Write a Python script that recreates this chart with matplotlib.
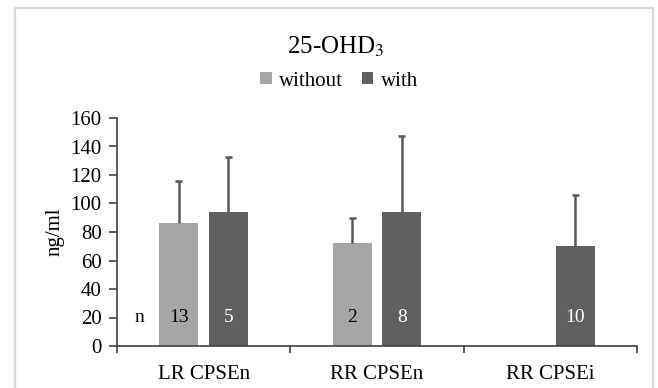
import matplotlib
matplotlib.use("Agg")
import matplotlib.pyplot as plt
import numpy as np
from matplotlib.patches import Rectangle

plt.rcParams['font.family'] = ['Liberation Serif', 'DejaVu Serif']

categories = ["LR CPSEn", "RR CPSEn", "RR CPSEi"]
without_vals = [86, 72.5, np.nan]
without_err = [29.5, 17.5, np.nan]
with_vals = [93.8, 94.2, 70.3]
with_err = [38.5, 53, 36]
n_without = ["13", "2", ""]
n_with = ["5", "8", "10"]
yticks = list(range(0, 161, 20))

light = "#a6a6a6"
dark = "#606060"

W, H = 658, 388
fig = plt.figure(figsize=(W/100, H/100), dpi=100)
fig.patches.append(Rectangle((15/W, -0.05), (653-15)/W, 1.05 - 8/H, transform=fig.transFigure,
                             fill=False, edgecolor="#d9d9d9", linewidth=1.6))
ax = fig.add_axes([117/W, 1-346/H, (637-117)/W, (346-118)/H])

x = np.arange(len(categories))
w = 0.224
off = 0.031 + w/2
ax.bar(x - off, without_vals, w, color=light, label="without", zorder=2)
ax.bar(x + off, with_vals, w, color=dark, label="with", zorder=2)
errc = "#595959"
capw = 0.02
for xs, vals, errs in [(x - off, without_vals, without_err), (x + off, with_vals, with_err)]:
    for xi, v, e in zip(xs, vals, errs):
        if np.isnan(v):
            continue
        ax.vlines(xi, v, v + e, color=errc, linewidth=1.8, zorder=3)
        ax.hlines(v + e, xi - capw, xi + capw, color=errc, linewidth=1.8, zorder=3)

for xi, t in zip(x - off, n_without):
    if t:
        ax.text(xi, 20, t, ha='center', va='center', fontsize=14, color='black', zorder=4)
for xi, t in zip(x + off, n_with):
    ax.text(xi, 20, t, ha='center', va='center', fontsize=14, color='white', zorder=4)
ax.text(-0.37, 20, "n", ha='center', va='center', fontsize=14, color='black')

ax.set_xlim(-0.5, 2.5)
ax.set_ylim(0, 160)
ax.set_yticks(yticks)
ax.set_yticklabels([str(t) for t in yticks], fontsize=15)
ax.set_xticks(x)
ax.set_xticklabels(categories, fontsize=15)
ax.tick_params(axis='x', length=0, pad=14)
ax.set_xticks([-0.5, 0.5, 1.5, 2.5], minor=True)
ax.tick_params(axis='x', which='minor', length=5, direction='out', width=1.2, color='#404040')
ax.tick_params(axis='y', length=6, direction='out', width=1.2, color='#404040', pad=5)
for s in ['top', 'right']:
    ax.spines[s].set_visible(False)
for s in ['left', 'bottom']:
    ax.spines[s].set_color('#404040')
    ax.spines[s].set_linewidth(1.2)
ax.set_ylabel("ng/ml", fontsize=15, labelpad=4)

fig.text(336/W, 1-47/H, "25-OHD$_3$", ha='center', va='center', fontsize=18,
         math_fontfamily='stix')
leg = ax.legend(loc='center', bbox_to_anchor=(339/W, 1-81/H), bbox_transform=fig.transFigure,
                ncol=2, frameon=False, fontsize=15, handlelength=0.55, handleheight=0.55,
                handletextpad=0.35, columnspacing=0.9)

fig.savefig("out.png", dpi=100)
